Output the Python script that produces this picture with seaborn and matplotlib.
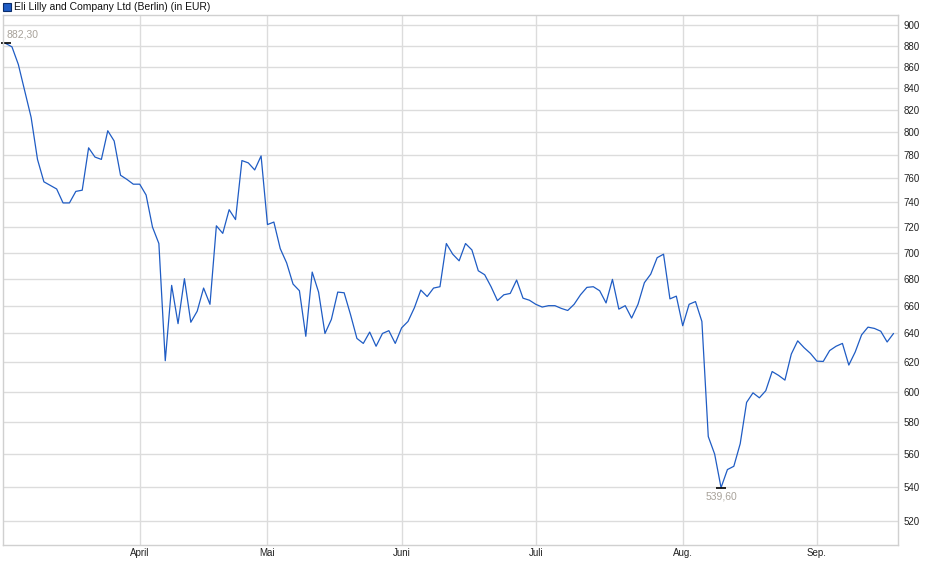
import numpy as np
import pandas as pd
import matplotlib
matplotlib.use("Agg")
import matplotlib.pyplot as plt
from matplotlib.patches import Rectangle
from matplotlib.ticker import FixedLocator, NullLocator, FuncFormatter
import seaborn as sns

# trading days, Berlin, 2025
start_date = "2025-03-03"
end_date = "2025-09-17"
holidays = ["2025-04-18", "2025-04-21", "2025-05-01"]

prices = [
    882.3, 879, 862, 837, 813, 776, 757, 754, 751, 739.5,
    739.5, 749, 750, 786, 778, 776, 801, 792, 762.5, 759,
    755, 755, 746, 720, 707, 621, 675, 647, 680, 648,
    656, 673, 661, 721, 715, 734, 726, 775, 773, 767,
    779, 722, 724, 703, 692, 676, 671, 638, 685, 670,
    640, 650, 670, 669.5, 653.5, 636.5, 633, 641, 631, 640,
    642, 633, 644, 648.6, 658.5, 671.5, 666.7, 673, 674, 707,
    698.7, 693.6, 707, 702, 686, 683, 674, 663.7, 668, 669,
    679, 665.5, 664, 661, 659, 660, 660, 658, 656.5, 661,
    668, 673.5, 674, 671, 662, 679.5, 657.5, 660, 651, 661,
    677, 683.5, 696, 698.7, 665, 667, 645.5, 661, 663, 648.6,
    571, 560, 539.6, 550.5, 552.5, 566.5, 593, 599.3, 596, 600.7,
    613.6, 611, 607.8, 625.6, 634.8, 630, 626, 620.7, 620.5, 628,
    631, 633, 618, 627, 639, 644.5, 643.6, 641.6, 634, 640,
]

month_names = {4: "April", 5: "Mai", 6: "Juni", 7: "Juli", 8: "Aug.", 9: "Sep."}
y_ticks = list(range(520, 901, 20))
title = "Eli Lilly and Company Ltd (Berlin) (in EUR)"

dates = pd.bdate_range(start_date, end_date, freq="C", holidays=holidays)
df = pd.DataFrame({"date": dates[:len(prices)], "price": prices})
df["idx"] = np.arange(len(df))

# first trading day of every month after the first one
firsts = df.groupby(df["date"].dt.month)["idx"].min()
firsts = firsts[firsts.index.isin(month_names.keys())]

sns.set_style("white")
plt.rcParams["font.family"] = ["Liberation Sans", "DejaVu Sans"]

fig = plt.figure(figsize=(9.4, 5.79), dpi=100)
ax = fig.add_axes([3 / 940, 1 - 545 / 579, 895 / 940, 530 / 579])

sns.lineplot(data=df, x="idx", y="price", ax=ax, color="#1f5cc4", linewidth=0.9)

ax.set_yscale("log")
ax.set_ylim(506.4, 910.5)
ax.set_xlim(-0.4, len(df) - 0.3)
ax.yaxis.set_major_locator(FixedLocator(y_ticks))
ax.yaxis.set_minor_locator(NullLocator())
ax.yaxis.set_major_formatter(FuncFormatter(lambda v, p: f"{v:.0f}"))
ax.yaxis.tick_right()
ax.set_xticks(firsts.values)
ax.set_xticklabels([month_names[m] for m in firsts.index])
ax.tick_params(axis="y", length=0, pad=4, labelsize=7, colors="#222222")
ax.tick_params(axis="x", length=0, pad=2, labelsize=7, colors="#222222")
ax.set_xlabel("")
ax.set_ylabel("")
ax.grid(True, color="#dcdcdc", linewidth=1)
for sp in ax.spines.values():
    sp.set_color("#d0d0d0")
    sp.set_linewidth(1)

# high / low markers
hi = df.loc[df["price"].idxmax()]
lo = df.loc[df["price"].idxmin()]
fmt = lambda v: f"{v:.2f}".replace(".", ",")
for row in (hi, lo):
    ax.plot(row["idx"], row["price"], marker="_", color="black", markersize=7, mew=1.2, clip_on=False)
ax.annotate(fmt(hi["price"]), (hi["idx"], hi["price"]), xytext=(1, 3), textcoords="offset points",
            ha="left", va="bottom", fontsize=7.5, color="#a8a29a")
ax.annotate(fmt(lo["price"]), (lo["idx"], lo["price"]), xytext=(0, -3), textcoords="offset points",
            ha="center", va="top", fontsize=7.5, color="#a8a29a")

# legend
fig.patches.append(Rectangle((3 / 940, 1 - 11 / 579), 8 / 940, 8 / 579, transform=fig.transFigure,
                             facecolor="#1f5cc4", edgecolor="#0b2d6b", linewidth=0.8))
fig.text(14 / 940, 1 - 6.5 / 579, title, fontsize=7.5, color="#111111", va="center", ha="left")

fig.savefig("out.png", dpi=100)
